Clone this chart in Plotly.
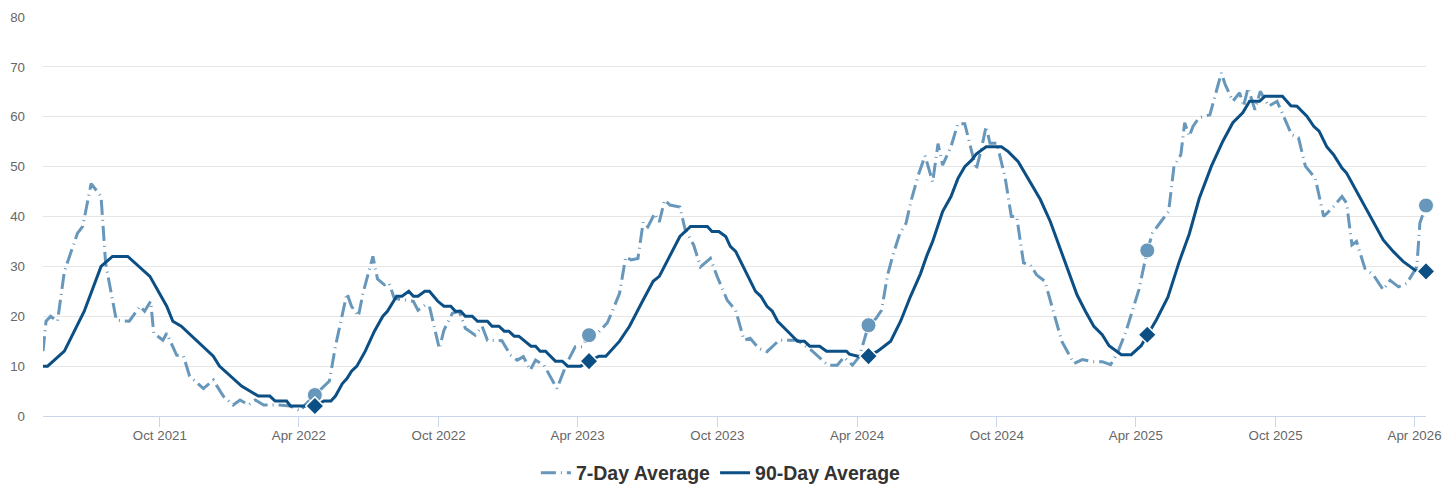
import plotly.graph_objects as go

# ------------------------------------------------------------
# data
# ------------------------------------------------------------

avg7_dates = [
    "2021-05-01", "2021-05-05", "2021-05-11", "2021-05-20", "2021-05-29", "2021-06-04",
    "2021-06-15", "2021-06-22", "2021-07-03", "2021-07-11", "2021-07-16", "2021-07-22",
    "2021-08-05", "2021-08-22", "2021-09-05", "2021-09-11", "2021-09-19", "2021-09-23",
    "2021-10-05", "2021-10-10", "2021-10-23", "2021-11-01", "2021-11-09", "2021-11-27",
    "2021-12-10", "2021-12-23", "2022-01-05", "2022-01-14", "2022-01-25", "2022-02-03",
    "2022-02-14", "2022-03-04", "2022-03-21", "2022-04-03", "2022-04-09", "2022-04-22",
    "2022-05-04", "2022-05-11", "2022-05-19", "2022-05-28", "2022-06-03", "2022-06-09",
    "2022-06-18", "2022-06-24", "2022-07-01", "2022-07-07", "2022-07-13", "2022-07-22",
    "2022-07-28", "2022-08-04", "2022-08-29", "2022-09-04", "2022-09-13", "2022-09-19",
    "2022-10-02", "2022-10-08", "2022-10-19", "2022-10-28", "2022-11-05", "2022-11-18",
    "2022-11-27", "2022-12-04", "2022-12-23", "2023-01-03", "2023-01-12", "2023-01-20",
    "2023-01-29", "2023-02-05", "2023-02-16", "2023-03-05", "2023-03-18", "2023-03-29",
    "2023-04-07", "2023-04-16", "2023-04-25", "2023-05-10", "2023-05-17", "2023-05-26",
    "2023-06-03", "2023-06-10", "2023-06-19", "2023-06-26", "2023-07-02", "2023-07-11",
    "2023-07-17", "2023-07-24", "2023-07-31", "2023-08-13", "2023-08-20", "2023-08-31",
    "2023-09-09", "2023-09-22", "2023-10-01", "2023-10-14", "2023-10-25", "2023-11-05",
    "2023-11-13", "2023-11-24", "2023-12-05", "2023-12-21", "2024-01-14", "2024-02-01",
    "2024-02-23", "2024-03-06", "2024-03-15", "2024-03-26", "2024-04-04", "2024-04-16",
    "2024-04-26", "2024-05-03", "2024-05-11", "2024-05-18", "2024-05-27", "2024-06-04",
    "2024-06-11", "2024-06-20", "2024-06-29", "2024-07-09", "2024-07-16", "2024-07-22",
    "2024-08-02", "2024-08-11", "2024-08-20", "2024-08-29", "2024-09-04", "2024-09-11",
    "2024-09-17", "2024-09-22", "2024-10-01", "2024-10-12", "2024-10-20", "2024-10-27",
    "2024-11-05", "2024-11-14", "2024-11-22", "2024-12-03", "2024-12-16", "2024-12-25",
    "2025-01-10", "2025-01-21", "2025-02-03", "2025-02-16", "2025-02-27", "2025-03-08",
    "2025-03-19", "2025-03-28", "2025-04-05", "2025-04-16", "2025-04-23", "2025-05-04",
    "2025-05-14", "2025-05-21", "2025-05-30", "2025-06-04", "2025-06-10", "2025-06-15",
    "2025-06-23", "2025-07-07", "2025-07-11", "2025-07-22", "2025-07-27", "2025-08-06",
    "2025-08-15", "2025-08-20", "2025-08-26", "2025-09-04", "2025-09-11", "2025-09-22",
    "2025-10-03", "2025-10-22", "2025-10-31", "2025-11-09", "2025-11-22", "2025-12-03",
    "2025-12-16", "2025-12-27", "2026-01-02", "2026-01-09", "2026-01-15", "2026-01-26",
    "2026-02-06", "2026-02-19", "2026-02-28", "2026-03-11", "2026-03-22", "2026-04-04",
    "2026-04-08", "2026-04-16",
]
avg7_values = [
    13, 19, 20, 19, 29, 31.6,
    36.6, 38, 46.6, 45, 44, 30.6,
    19.2, 19, 22, 21, 23, 16.6,
    15.2, 16.6, 12.2, 12, 8, 5.5,
    7.2, 4, 2.2, 3.2, 2.2, 3.2,
    2.2, 2.2, 2, 1, 2.2, 4.2,
    6, 7, 14, 20, 24.6, 22,
    20, 24.6, 28.6, 32, 27.5, 26.3,
    26.7, 23.6, 23, 21.2, 22.2, 22,
    13.5, 17.2, 20.6, 21, 17.6, 16.2,
    18, 15.2, 15.1, 12.2, 11.2, 11.9,
    9.2, 11.2, 10.2, 5.5, 10.6, 13.9,
    13.9, 16.2, 16.2, 18.7, 21.2, 24.6,
    31.9, 31.3, 31.6, 38.9, 37.9, 40.6,
    38.9, 43.3, 42.3, 41.9, 37.3, 34.3,
    29.9, 31.6, 27.9, 23.2, 21.2, 15.2,
    15.6, 13.6, 12.9, 15.2, 15.2, 13.2,
    10.2, 10.2, 11.8, 10.2, 11.9, 18.2,
    19.6, 21.2, 28.3, 32.3, 36.6, 38.6,
    43.3, 48.2, 52.2, 46.9, 54.6, 50.3,
    54, 58.6, 58.6, 53.3, 49.4, 53.7,
    58.1, 54.7, 54.7, 47.7, 40, 40,
    30.7, 30.3, 28.3, 27, 19.6, 15,
    10.5, 11.3, 10.9, 10.9, 10.3, 12.6,
    16.9, 21.3, 25.3, 33.2, 36.7, 39,
    41, 50.1, 52.4, 58.8, 56.1, 58.1,
    59.8, 60.4, 62.8, 68.8, 66.5, 63.1,
    64.8, 62.1, 65.8, 61.4, 65.1, 62.1,
    63.1, 56.4, 55.8, 50.1, 47.7, 40,
    42, 44, 42.7, 34.3, 35, 29.6,
    28.3, 25.3, 27.2, 25.9, 26.6, 29.9,
    38.7, 42.2,
]

avg90_dates = [
    "2021-05-01", "2021-05-07", "2021-05-29", "2021-06-24", "2021-07-16", "2021-07-31",
    "2021-08-20", "2021-09-18", "2021-10-10", "2021-10-18", "2021-10-29", "2021-12-10",
    "2021-12-18", "2022-01-16", "2022-02-07", "2022-02-22", "2022-03-01", "2022-03-16",
    "2022-03-21", "2022-04-22", "2022-05-04", "2022-05-13", "2022-05-19", "2022-05-28",
    "2022-06-03", "2022-06-09", "2022-06-16", "2022-06-27", "2022-07-09", "2022-07-20",
    "2022-07-26", "2022-08-07", "2022-08-14", "2022-08-23", "2022-08-29", "2022-09-04",
    "2022-09-13", "2022-09-19", "2022-09-30", "2022-10-08", "2022-10-17", "2022-10-23",
    "2022-10-30", "2022-11-05", "2022-11-14", "2022-11-21", "2022-12-04", "2022-12-10",
    "2022-12-19", "2022-12-26", "2023-01-01", "2023-01-08", "2023-01-14", "2023-01-30",
    "2023-02-05", "2023-02-11", "2023-02-18", "2023-03-03", "2023-03-12", "2023-03-19",
    "2023-04-05", "2023-04-16", "2023-04-29", "2023-05-08", "2023-05-26", "2023-06-08",
    "2023-06-25", "2023-07-09", "2023-07-17", "2023-07-31", "2023-08-13", "2023-08-27",
    "2023-09-18", "2023-09-24", "2023-10-03", "2023-10-12", "2023-10-18", "2023-10-25",
    "2023-11-07", "2023-11-20", "2023-11-27", "2023-12-05", "2023-12-12", "2023-12-19",
    "2024-01-01", "2024-01-14", "2024-01-23", "2024-01-30", "2024-02-12", "2024-02-21",
    "2024-03-18", "2024-03-22", "2024-04-02", "2024-04-16", "2024-04-28", "2024-05-15",
    "2024-05-28", "2024-06-10", "2024-06-23", "2024-07-01", "2024-07-09", "2024-07-22",
    "2024-08-02", "2024-08-11", "2024-08-20", "2024-08-29", "2024-09-04", "2024-09-17",
    "2024-10-07", "2024-10-16", "2024-10-29", "2024-11-11", "2024-11-27", "2024-12-10",
    "2024-12-21", "2025-01-03", "2025-01-14", "2025-01-25", "2025-02-05", "2025-02-16",
    "2025-02-25", "2025-03-13", "2025-03-26", "2025-04-08", "2025-04-16", "2025-04-28",
    "2025-05-13", "2025-05-28", "2025-06-10", "2025-06-23", "2025-07-09", "2025-07-24",
    "2025-08-06", "2025-08-19", "2025-08-28", "2025-09-10", "2025-09-17", "2025-10-10",
    "2025-10-21", "2025-10-29", "2025-11-11", "2025-11-20", "2025-11-27", "2025-12-07",
    "2025-12-16", "2025-12-27", "2026-01-02", "2026-01-15", "2026-02-04", "2026-02-19",
    "2026-03-04", "2026-03-17", "2026-04-02", "2026-04-16",
]
avg90_values = [
    10, 10, 13, 21, 30, 32,
    32, 28, 22, 19, 18, 12,
    10, 6, 4, 4, 3, 3,
    2, 2, 3, 3, 4, 6.5,
    7.5, 9, 10, 13, 17, 20,
    21, 24, 24, 25, 24, 24,
    25, 25, 23, 22, 22, 21,
    21, 20, 20, 19, 19, 18,
    18, 17, 17, 16, 16, 14,
    14, 13, 13, 11, 11, 10,
    10, 11, 12, 12, 15, 18,
    23, 27, 28, 32, 36, 38,
    38, 37, 37, 36, 34, 33,
    29, 25, 24, 22, 21, 19,
    17, 15, 15, 14, 14, 13,
    13, 12.4, 12, 12, 13, 15,
    19, 24, 28.5, 32, 35, 41,
    44, 47.6, 50, 51.3, 52.5, 54,
    54, 53, 51, 47.7, 43.4, 39,
    34.3, 29, 24.3, 21, 18, 16.3,
    14.1, 12.3, 12.3, 14.1, 16.3, 19.3,
    23.8, 31, 36.5, 43.6, 50.1, 55.1,
    58.8, 60.8, 63.1, 63.1, 64.1, 64.1,
    62.2, 62.1, 60.1, 58.1, 57.1, 54,
    52.4, 49.7, 48.7, 45, 39.4, 35.3,
    33, 31, 29.2, 29,
]

# same-date markers for each year
marker_dates = ["2022-04-22", "2023-04-16", "2024-04-16", "2025-04-16", "2026-04-16"]
marker_avg7 = [4.2, 16.2, 18.2, 33.2, 42.2]
marker_avg90 = [2, 11, 12, 16.3, 29]

tick_dates = [
    "2021-10-01", "2022-04-01", "2022-10-01", "2023-04-01", "2023-10-01",
    "2024-04-01", "2024-10-01", "2025-04-01", "2025-10-01", "2026-04-01",
]
tick_labels = [
    "Oct 2021", "Apr 2022", "Oct 2022", "Apr 2023", "Oct 2023",
    "Apr 2024", "Oct 2024", "Apr 2025", "Oct 2025", "Apr 2026",
]

LIGHT = "#6797bb"
DARK = "#0b4f84"

# ------------------------------------------------------------
# figure (page body keeps its 8px margin, so the figure is 8px smaller)
# ------------------------------------------------------------

fig = go.Figure()

fig.add_trace(go.Scatter(
    x=avg7_dates,
    y=avg7_values,
    mode="lines",
    name="7-Day Average",
    line=dict(color=LIGHT, width=3, dash="15px,5px,1px,5px"),
))

fig.add_trace(go.Scatter(
    x=avg90_dates,
    y=avg90_values,
    mode="lines",
    name="90-Day Average",
    line=dict(color=DARK, width=3),
))

fig.add_trace(go.Scatter(
    x=marker_dates,
    y=marker_avg7,
    mode="markers",
    showlegend=False,
    cliponaxis=False,
    marker=dict(symbol="circle", size=15, color=LIGHT,
                line=dict(color="white", width=1)),
))

fig.add_trace(go.Scatter(
    x=marker_dates,
    y=marker_avg90,
    mode="markers",
    showlegend=False,
    cliponaxis=False,
    marker=dict(symbol="diamond", size=14, color=DARK,
                line=dict(color="white", width=1.5)),
))

fig.update_layout(
    width=1446,
    height=491,
    margin=dict(l=35, r=28, t=9, b=83, autoexpand=False),
    paper_bgcolor="white",
    plot_bgcolor="white",
    font=dict(family="Liberation Sans, Arial, sans-serif", color="#666666", size=13),
    showlegend=True,
    legend=dict(
        orientation="h",
        xref="container",
        yref="container",
        x=0.493,
        xanchor="center",
        y=0.053,
        yanchor="middle",
        font=dict(size=19.5, color="#333333", weight="bold"),
        itemwidth=30,
    ),
    hovermode="x unified",
)

fig.update_xaxes(
    range=["2021-05-01", "2026-04-16"],
    tickvals=tick_dates,
    ticktext=tick_labels,
    ticks="outside",
    ticklen=10,
    tickcolor="#ccd6eb",
    showgrid=False,
    showline=True,
    linecolor="#ccd6eb",
    linewidth=1,
    zeroline=False,
    automargin=False,
    ticklabelstandoff=-3,
    tickfont=dict(size=13.3, color="#666666"),
)

fig.update_yaxes(
    range=[0, 80],
    dtick=10,
    showgrid=True,
    gridcolor="#e6e6e6",
    zeroline=False,
    showline=False,
    ticks="",
    ticklabelstandoff=17,
    automargin=False,
    tickfont=dict(size=13.3, color="#666666"),
)

fig.write_html("out.html")
